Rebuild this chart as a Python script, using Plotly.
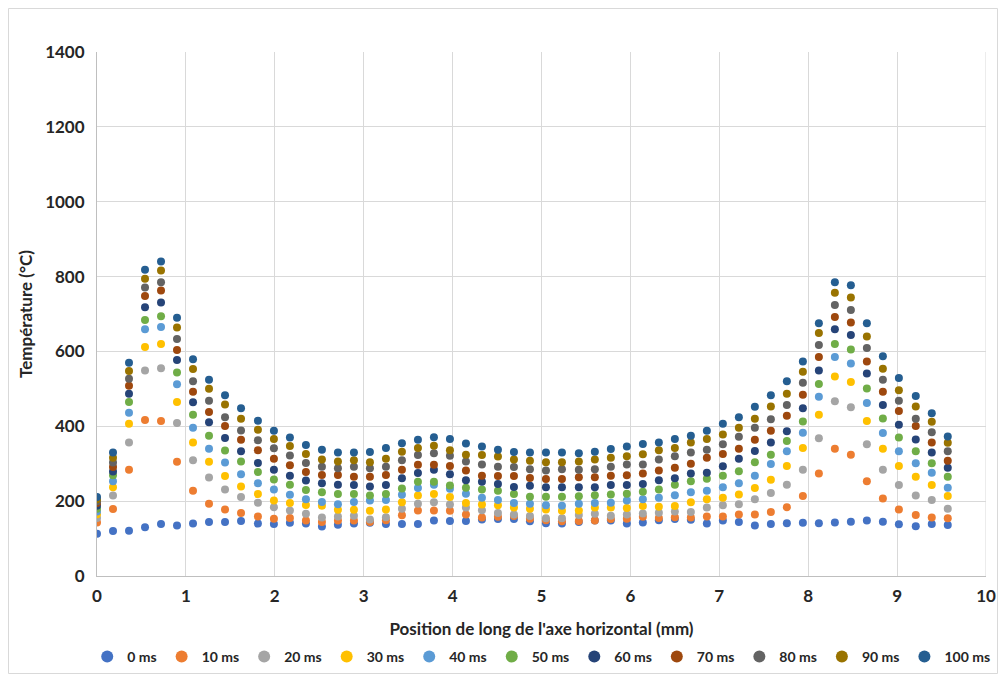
import plotly.graph_objects as go

# positions along the horizontal axis (mm)
position = [0, 0.18, 0.36, 0.54, 0.72, 0.90, 1.08, 1.26, 1.44, 1.62,
            1.81, 1.99, 2.17, 2.35, 2.53, 2.71, 2.89, 3.07, 3.25, 3.43,
            3.61, 3.79, 3.97, 4.15, 4.33, 4.51, 4.69, 4.87, 5.05, 5.23,
            5.42, 5.60, 5.78, 5.96, 6.14, 6.32, 6.50, 6.68, 6.86, 7.04,
            7.22, 7.40, 7.58, 7.76, 7.94, 8.12, 8.30, 8.48, 8.66, 8.84,
            9.02, 9.21, 9.39, 9.57]

t0 = [113, 120, 121, 130, 139, 135, 140, 144, 144, 147, 140, 139, 142, 140, 132, 137, 140, 142,
      139, 139, 139, 148, 147, 147, 151, 152, 152, 146, 141, 140, 144, 148, 148, 140, 143, 149,
      152, 150, 140, 148, 144, 135, 139, 141, 142, 141, 143, 145, 148, 145, 138, 133, 139, 136]
t10 = [143, 179, 284, 417, 414, 305, 228, 193, 178, 168, 159, 153, 155, 148, 144, 148, 148, 144,
       149, 162, 175, 175, 174, 164, 156, 158, 160, 153, 149, 146, 147, 148, 152, 153, 158, 155,
       157, 156, 159, 159, 164, 164, 171, 184, 214, 274, 340, 324, 253, 207, 178, 163, 156, 154]
t20 = [155, 215, 357, 549, 555, 409, 309, 263, 231, 211, 196, 184, 175, 166, 156, 159, 161, 151,
       157, 180, 193, 197, 191, 183, 176, 168, 164, 160, 154, 154, 163, 166, 161, 164, 167, 169,
       172, 171, 183, 189, 192, 205, 222, 244, 284, 368, 467, 451, 352, 284, 243, 215, 203, 180]
t30 = [165, 237, 407, 612, 620, 465, 357, 305, 267, 239, 219, 202, 195, 190, 188, 177, 177, 174,
       178, 197, 215, 219, 211, 195, 191, 189, 183, 180, 178, 174, 175, 183, 183, 182, 187, 185,
       187, 197, 205, 209, 218, 235, 257, 294, 342, 431, 533, 518, 414, 340, 294, 265, 243, 214]
t40 = [172, 253, 436, 659, 665, 512, 396, 340, 303, 272, 248, 231, 217, 205, 198, 192, 198, 202,
       203, 217, 235, 244, 233, 220, 209, 203, 195, 193, 189, 188, 193, 195, 196, 202, 205, 209,
       216, 224, 228, 237, 248, 268, 299, 333, 383, 479, 585, 568, 462, 382, 333, 301, 276, 236]
t50 = [180, 269, 465, 684, 694, 544, 431, 375, 335, 306, 278, 258, 244, 230, 224, 219, 219, 215,
       219, 234, 252, 252, 242, 236, 231, 228, 219, 212, 212, 212, 213, 216, 218, 220, 225, 231,
       244, 253, 260, 268, 280, 304, 324, 361, 413, 513, 620, 605, 501, 421, 370, 333, 301, 265]
t60 = [188, 279, 487, 718, 731, 577, 464, 411, 369, 333, 302, 284, 268, 255, 248, 244, 243, 239,
       243, 261, 275, 284, 272, 256, 252, 246, 238, 241, 237, 237, 237, 237, 243, 243, 246, 256,
       261, 274, 276, 293, 313, 334, 357, 387, 448, 549, 659, 644, 541, 457, 404, 365, 330, 289]
t70 = [195, 291, 508, 748, 763, 604, 492, 438, 401, 364, 336, 313, 296, 278, 270, 270, 265, 265,
       270, 284, 297, 297, 294, 282, 268, 267, 267, 262, 259, 259, 264, 264, 268, 269, 274, 282,
       289, 300, 316, 326, 340, 364, 388, 428, 484, 585, 692, 677, 573, 492, 441, 401, 357, 308]
t80 = [200, 303, 527, 771, 785, 633, 520, 468, 424, 389, 363, 341, 322, 302, 292, 288, 292, 288,
       292, 309, 323, 328, 321, 306, 298, 292, 291, 285, 282, 285, 284, 285, 292, 298, 298, 311,
       320, 330, 337, 352, 372, 396, 419, 457, 516, 617, 724, 711, 609, 524, 468, 420, 384, 333]
t90 = [205, 316, 548, 794, 816, 664, 553, 500, 458, 420, 391, 366, 347, 326, 311, 306, 309, 304,
       313, 332, 342, 348, 336, 324, 323, 319, 311, 308, 304, 304, 306, 311, 316, 320, 325, 336,
       342, 357, 366, 378, 396, 420, 453, 487, 546, 649, 757, 744, 640, 554, 496, 453, 412, 356]
t100 = [211, 330, 570, 818, 840, 690, 579, 524, 483, 448, 415, 388, 370, 350, 337, 330, 330, 331,
        342, 355, 364, 371, 366, 354, 346, 337, 331, 330, 330, 330, 328, 332, 339, 346, 353, 357,
        366, 375, 388, 407, 424, 452, 483, 520, 573, 675, 785, 777, 675, 587, 529, 481, 435, 373]

series = [
    ("0 ms", t0, "#4472C4"),
    ("10 ms", t10, "#ED7D31"),
    ("20 ms", t20, "#A5A5A5"),
    ("30 ms", t30, "#FFC000"),
    ("40 ms", t40, "#5B9BD5"),
    ("50 ms", t50, "#70AD47"),
    ("60 ms", t60, "#264478"),
    ("70 ms", t70, "#9E480E"),
    ("80 ms", t80, "#636363"),
    ("90 ms", t90, "#997300"),
    ("100 ms", t100, "#255E91"),
]

font_family = "Lato, 'Open Sans', sans-serif"
text_color = "#262626"

fig = go.Figure()
for name, values, color in series:
    fig.add_trace(
        go.Scatter(
            x=position,
            y=values,
            mode="markers",
            name=name,
            marker=dict(color=color, size=8, line=dict(width=0)),
        )
    )

# the page has an 8px body margin, so the figure is sized to sit inside it
W, H = 990, 666
ML, MR, MT, MB = 89, 12, 44, 98
pw, ph = W - ML - MR, H - MT - MB

fig.update_layout(
    width=W,
    height=H,
    paper_bgcolor="white",
    plot_bgcolor="white",
    margin=dict(l=ML, r=MR, t=MT, b=MB, autoexpand=False),
    font=dict(family=font_family, size=16, color=text_color),
    showlegend=True,
    legend=dict(
        orientation="h",
        x=-0.011,
        xanchor="left",
        y=-0.124,
        yanchor="top",
        bgcolor="rgba(0,0,0,0)",
        font=dict(size=14, family=font_family, weight="bold", color=text_color),
        itemsizing="constant",
        itemwidth=30,
        tracegroupgap=0,
    ),
)

fig.update_xaxes(
    range=[0, 10],
    dtick=1,
    tick0=0,
    showgrid=True,
    gridcolor="#D9D9D9",
    gridwidth=1,
    showline=True,
    linecolor="#BFBFBF",
    linewidth=1,
    zeroline=False,
    ticks="",
    ticklabelstandoff=5,
    ticklabeloverflow="allow",
    tickfont=dict(size=17, weight="bold", color=text_color),
    title=dict(
        text="Position de long de l'axe horizontal (mm)",
        font=dict(size=17, weight="bold", color=text_color),
        standoff=17,
    ),
)

fig.update_yaxes(
    range=[0, 1400],
    dtick=200,
    showgrid=True,
    gridcolor="#D9D9D9",
    gridwidth=1,
    showline=True,
    linecolor="#BFBFBF",
    linewidth=1,
    zeroline=False,
    ticks="",
    ticklabelstandoff=8,
    tickfont=dict(size=17, weight="bold", color=text_color),
    title=dict(
        text="Température (°C)",
        font=dict(size=17, weight="bold", color=text_color),
        standoff=8,
    ),
)

# thin frame round the whole chart
fig.add_shape(
    type="rect",
    xref="paper",
    yref="paper",
    x0=-(ML - 0.5) / pw,
    x1=(W - ML - 0.5) / pw,
    y0=-(MB - 0.5) / ph,
    y1=(ph + MT - 0.5) / ph,
    line=dict(color="#D9D9D9", width=1),
)
fig.add_shape(
    type="line",
    xref="x",
    yref="paper",
    x0=10,
    x1=10,
    y0=0,
    y1=1,
    line=dict(color="#D9D9D9", width=1),
)

fig.write_html("out.html")
